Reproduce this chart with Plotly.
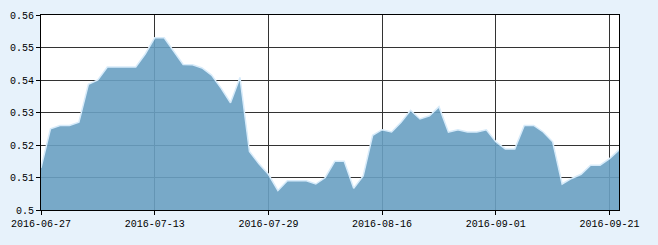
import plotly.graph_objects as go

dates = [
    "2016-06-27", "2016-06-28", "2016-06-29", "2016-06-30", "2016-07-01",
    "2016-07-04", "2016-07-05", "2016-07-06", "2016-07-07", "2016-07-08",
    "2016-07-11", "2016-07-12", "2016-07-13", "2016-07-14", "2016-07-15",
    "2016-07-18", "2016-07-19", "2016-07-20", "2016-07-21", "2016-07-22",
    "2016-07-25", "2016-07-26", "2016-07-27", "2016-07-28", "2016-07-29",
    "2016-08-01", "2016-08-02", "2016-08-03", "2016-08-04", "2016-08-05",
    "2016-08-08", "2016-08-09", "2016-08-10", "2016-08-11", "2016-08-12",
    "2016-08-15", "2016-08-16", "2016-08-17", "2016-08-18", "2016-08-19",
    "2016-08-22", "2016-08-23", "2016-08-24", "2016-08-25", "2016-08-26",
    "2016-08-29", "2016-08-30", "2016-08-31", "2016-09-01", "2016-09-02",
    "2016-09-05", "2016-09-06", "2016-09-07", "2016-09-08", "2016-09-09",
    "2016-09-12", "2016-09-13", "2016-09-14", "2016-09-19", "2016-09-20",
    "2016-09-21", "2016-09-22",
]

values = [
    0.513, 0.525, 0.526, 0.526, 0.527,
    0.5387, 0.540, 0.544, 0.544, 0.544,
    0.544, 0.548, 0.553, 0.553, 0.549,
    0.5448, 0.5447, 0.5437, 0.5415, 0.5375,
    0.533, 0.5408, 0.518, 0.5142, 0.511,
    0.506, 0.509, 0.509, 0.509, 0.508,
    0.510, 0.515, 0.515, 0.5067, 0.5105,
    0.523, 0.5247, 0.524, 0.527, 0.5307,
    0.528, 0.529, 0.5318, 0.524, 0.5247,
    0.524, 0.524, 0.5247, 0.521, 0.5188,
    0.5188, 0.526, 0.526, 0.524, 0.521,
    0.508, 0.5097, 0.511, 0.5138, 0.5138,
    0.5158, 0.5185,
]

tick_dates = dates[::12]

fig = go.Figure()
fig.add_trace(go.Scatter(
    x=dates, y=values, mode="lines", fill="tozeroy",
    fillcolor="rgba(105,160,194,0.9)",
    line=dict(color="rgba(215,235,250,1)", width=1.5),
    hoverinfo="x+y",
))

font = dict(family="Liberation Mono, DejaVu Sans Mono, monospace", size=10, color="#000")

fig.update_layout(
    width=658, height=245,
    margin=dict(l=39, r=39, t=10, b=35),
    paper_bgcolor="rgb(231,242,251)",
    plot_bgcolor="white",
    showlegend=False,
    font=font,
)
fig.update_xaxes(
    type="category", range=[0, len(dates) - 1],
    tickvals=tick_dates, ticktext=tick_dates,
    showgrid=True, gridcolor="#333", gridwidth=1,
    showline=True, linecolor="#000", linewidth=1, mirror=True,
    ticks="outside", ticklen=4, tickcolor="#000",
    tickfont=font, zeroline=False,
)
fig.update_yaxes(
    range=[0.5, 0.56], dtick=0.01, tick0=0.5,
    showgrid=True, gridcolor="#333", gridwidth=1,
    showline=True, linecolor="#000", linewidth=1, mirror=True,
    ticks="outside", ticklen=4, tickcolor="#000",
    tickfont=font, zeroline=False,
)

fig.write_html("out.html")
